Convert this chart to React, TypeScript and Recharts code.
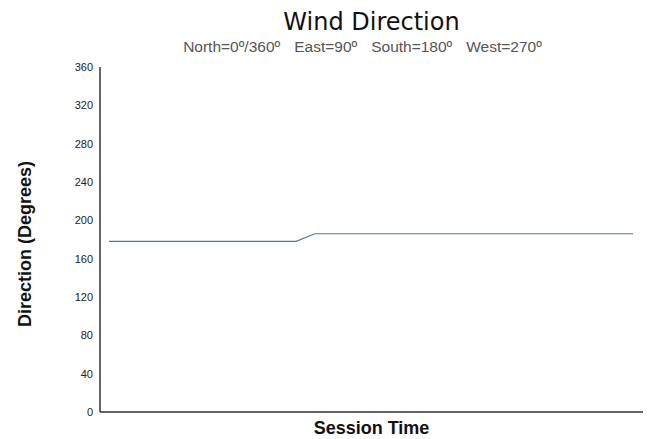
import * as React from 'react';
import { LineChart, Line, XAxis, YAxis } from 'recharts';

// session samples and the wind direction read at each (degrees)
const sessionTimes = [
  0, 1, 2, 3, 4, 5, 6, 7, 8, 9, 10, 11, 12, 13, 14, 15, 16, 17, 18, 19, 20,
  21, 22, 23, 24, 25, 26, 27, 28,
];
const directions = [
  178, 178, 178, 178, 178, 178, 178, 178, 178, 178, 178, 186, 186, 186, 186,
  186, 186, 186, 186, 186, 186, 186, 186, 186, 186, 186, 186, 186, 186,
];
const yTicks = [0, 40, 80, 120, 160, 200, 240, 280, 320, 360];
const compassNotes = ['North=0º/360º', 'East=90º', 'South=180º', 'West=270º'];

const data = sessionTimes.map((t, i) => ({ t, dir: directions[i] }));

const font = '"Liberation Sans", Arial, sans-serif';

export default function App() {
  return (
    <div
      style={{
        position: 'absolute',
        top: 0,
        left: 0,
        width: 648,
        height: 439,
        background: '#fff',
        fontFamily: font,
      }}
    >
      <div
        style={{
          position: 'absolute',
          top: 8,
          left: 100,
          width: 543,
          textAlign: 'center',
          fontFamily: '"DejaVu Sans", sans-serif',
          fontSize: 24,
          color: '#111',
          lineHeight: '28px',
        }}
      >
        Wind Direction
      </div>
      <div
        style={{
          position: 'absolute',
          top: 39,
          left: 100,
          width: 525,
          display: 'flex',
          justifyContent: 'center',
          gap: 14,
          fontSize: 15.5,
          color: '#555',
          lineHeight: '16px',
        }}
      >
        {compassNotes.map((n) => (
          <span key={n}>{n}</span>
        ))}
      </div>
      <div
        style={{
          position: 'absolute',
          left: 25,
          top: 244,
          transform: 'translate(-50%, -50%) rotate(-90deg)',
          fontSize: 18,
          fontWeight: 'bold',
          color: '#111',
          whiteSpace: 'nowrap',
        }}
      >
        Direction (Degrees)
      </div>
      <div
        style={{
          position: 'absolute',
          top: 417,
          left: 100,
          width: 543,
          textAlign: 'center',
          fontSize: 18,
          fontWeight: 'bold',
          color: '#111',
          lineHeight: '22px',
        }}
      >
        Session Time
      </div>
      <LineChart
        width={648}
        height={439}
        data={data}
        margin={{ top: 67, right: 5, left: 60, bottom: 26 }}
      >
        <XAxis
          dataKey="t"
          type="category"
          tick={false}
          tickLine={false}
          height={1}
          padding={{ left: 9, right: 10 }}
          axisLine={{ stroke: '#333', strokeWidth: 1.5 }}
        />
        <YAxis
          domain={[0, 360]}
          ticks={yTicks}
          width={40}
          interval={0}
          tickLine={false}
          axisLine={{ stroke: '#333', strokeWidth: 1.5 }}
          tick={{ fill: '#222', fontSize: 11, fontFamily: font }}
          tickMargin={1}
        />
        <Line
          type="linear"
          dataKey="dir"
          stroke="#4f77aa"
          strokeWidth={1.2}
          dot={false}
          isAnimationActive={false}
        />
      </LineChart>
    </div>
  );
}
